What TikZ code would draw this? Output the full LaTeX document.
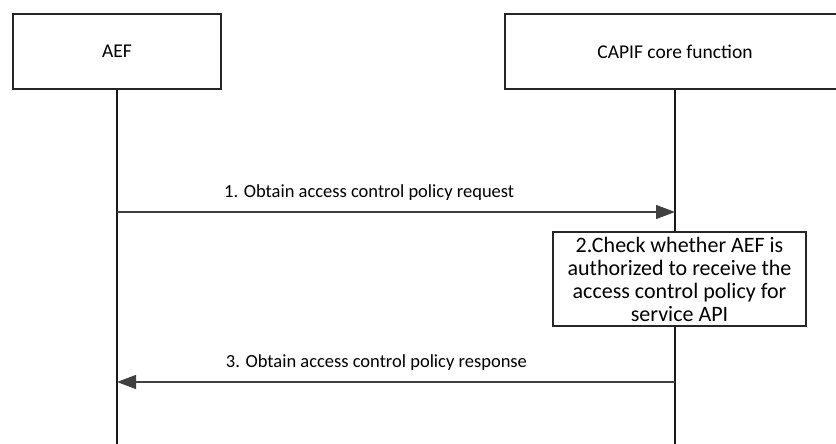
\documentclass[tikz,border=0pt]{standalone}
\usepackage{fontspec}
\setmainfont{Carlito}
\usetikzlibrary{arrows.meta}

\begin{document}
\begin{tikzpicture}[x=1pt, y=-1pt,
  entity/.style={draw=black!85, line width=1.3pt, fill=white, minimum height=75pt, inner sep=0pt, font=\fontsize{19.5}{23}\selectfont},
  lifeline/.style={draw=black!90, line width=1.2pt},
  msg/.style={draw=black!75, line width=1.2pt, -{Triangle[length=19pt, width=14pt]}},
  msglabel/.style={font=\fontsize{18.5}{22}\selectfont, inner sep=0pt},
  checkbox/.style={draw=black!85, line width=1.2pt, fill=white, minimum width=253pt, minimum height=94pt, inner sep=1pt, align=center, font=\fontsize{22}{23}\selectfont}]
  \useasboundingbox (0,0) rectangle (836,444);
  \clip (0,0) rectangle (836,444);
  % entities
  \node[entity, minimum width=208pt] (AEF) at (117,51.5) {AEF};
  \node[entity, minimum width=340pt] (CCF) at (675,51.5) {CAPIF core function};
  % lifelines
  \coordinate (AEFend) at (AEF.south |- 0,444);
  \coordinate (CCFend) at (CCF.south |- 0,444);
  \draw[lifeline] (AEF.south) -- (AEFend);
  \draw[lifeline] (CCF.south) -- (CCFend);
  % 1. request
  \coordinate (req1) at (AEF.south |- 0,212);
  \coordinate (req2) at (CCF.south |- 0,212);
  \draw[msg] (req1) -- node[msglabel, pos=0.452, above=11pt] (reqtxt) {1. Obtain access control policy request} (req2);
  % 2. check
  \node[checkbox] (check) at (679.5,279) {2.Check whether AEF is\\authorized to receive the\\access control policy for\\service API};
  % 3. response
  \coordinate (rsp1) at (CCF.south |- 0,382);
  \coordinate (rsp2) at (AEF.south |- 0,382);
  \draw[msg] (rsp1) -- node[msglabel, pos=0.535, above=11pt] (rsptxt) {3. Obtain access control policy response} (rsp2);
\end{tikzpicture}
\end{document}
